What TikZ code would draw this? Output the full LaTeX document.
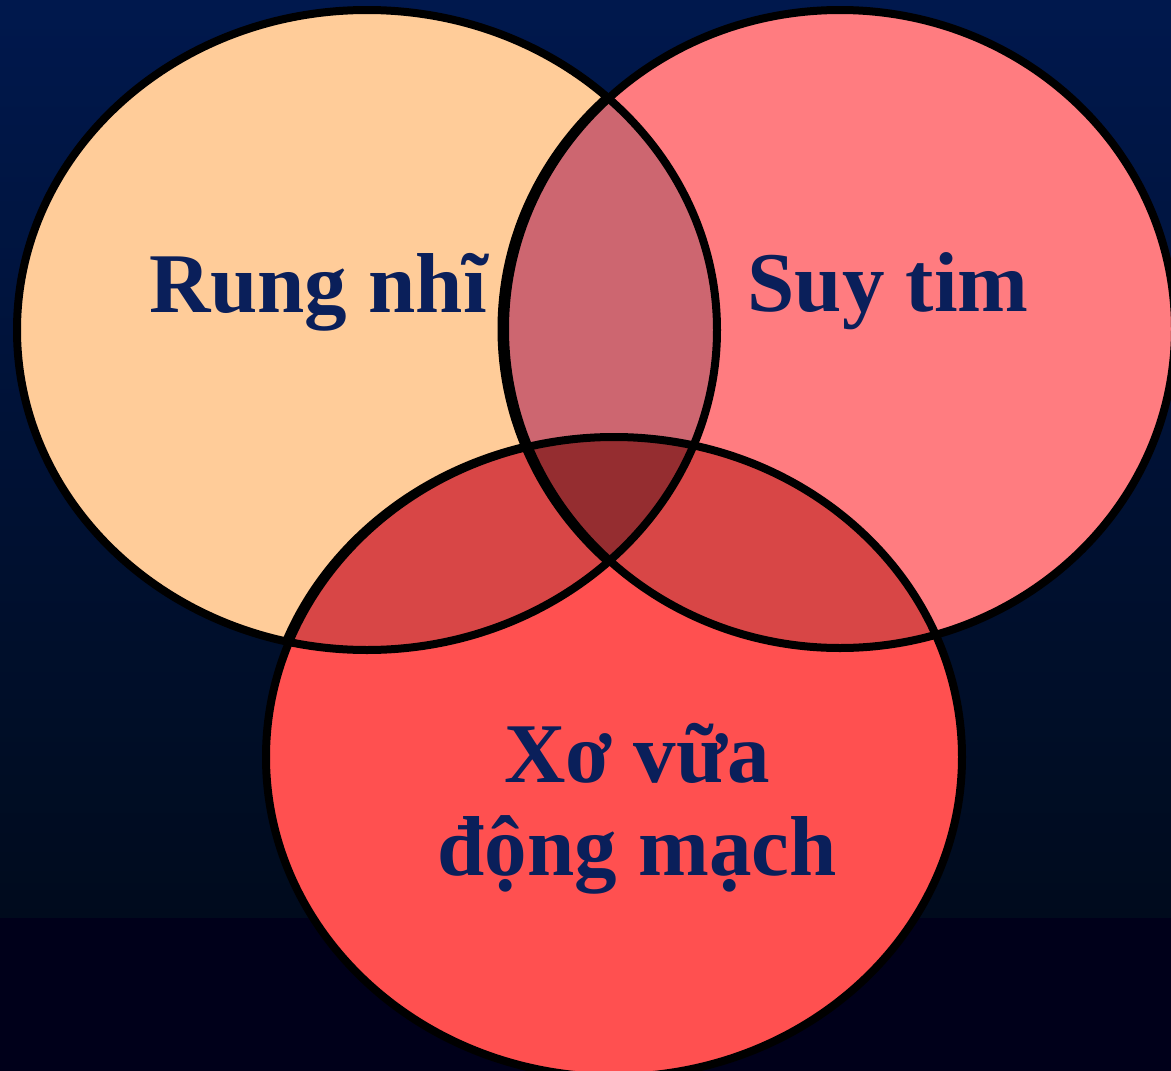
\documentclass[tikz,border=0pt]{standalone}
\usepackage{fontspec}
\setmainfont{Liberation Serif}
\begin{document}
\begin{tikzpicture}[x=1pt,y=-1pt,
  outline/.style={draw=black,line width=8pt},
  thinoutline/.style={draw=black,line width=5pt},
  label/.style={text=textnavy,font=\bfseries\fontsize{85}{93}\selectfont,align=center,anchor=base,inner sep=0pt}]
\definecolor{textnavy}{HTML}{0A1F5A}
\definecolor{bgtop}{HTML}{00184D}
\definecolor{bgbot}{HTML}{000B1D}
\definecolor{bgband}{HTML}{00001A}
\definecolor{cleft}{HTML}{FFCC99}
\definecolor{cright}{HTML}{FF7C80}
\definecolor{cbottom}{HTML}{FF5050}
\definecolor{clr}{HTML}{CD6670}
\definecolor{clb}{HTML}{D84646}
\definecolor{call}{HTML}{952D30}
\useasboundingbox (0,0) rectangle (1171,1071);
\shade[top color=bgtop,bottom color=bgbot] (0,0) rectangle (1171,918);
\fill[bgband] (0,918) rectangle (1171,1071);
\def\EL{(367,330) ellipse [x radius=350,y radius=320]}
\def\ER{(840,329) ellipse [x radius=335,y radius=319]}
\def\EB{(614,757) ellipse [x radius=348,y radius=320]}
% base fills
\fill[cleft] \EL;
\fill[cright] \ER;
\fill[cbottom] \EB;
% pairwise overlaps
\begin{scope}\clip \EL; \fill[clr] \ER; \end{scope}
\begin{scope}\clip \EL; \fill[clb] \EB; \end{scope}
\begin{scope}\clip \ER; \fill[clb] \EB; \end{scope}
\begin{scope}\clip \EL; \clip \ER; \fill[call] \EB; \end{scope}
% outlines
\draw[outline] \EL;
\draw[outline] \ER;
\draw[outline] \EB;
% slightly larger duplicate arcs inside the left circle (as in the original)
\begin{scope}
  \clip \EL;
  \draw[thinoutline] (840,329) ellipse [x radius=340,y radius=321];
  \clip (250,420) rectangle (520,660);
  \draw[thinoutline] (614,757) ellipse [x radius=353,y radius=322];
\end{scope}
% labels
\node[label] (rung) at (318,312) {Rung nhĩ};
\node[label] (suy) at (888,311) {Suy tim};
\node[label] (xo) at (637,782) {Xơ vữa};
\node[label] (dong) at (637,875) {động mạch};
\end{tikzpicture}
\end{document}
